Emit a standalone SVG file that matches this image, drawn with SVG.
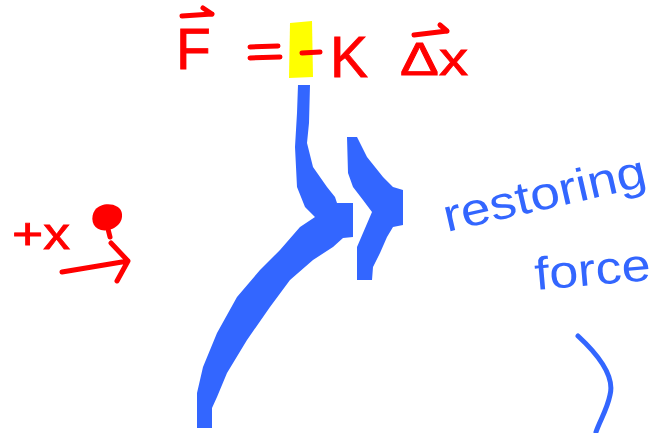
<svg xmlns="http://www.w3.org/2000/svg" width="657" height="433" viewBox="0 0 657 433">
<style>
.red{fill:#ff0000;stroke:#ff0000;stroke-width:0.8;font-family:"Liberation Sans",sans-serif;}
.rline{fill:none;stroke:#ff0000;stroke-width:5;stroke-linecap:round;stroke-linejoin:round;}
.blue{fill:#3366ff;}
.btext{fill:#3366ff;font-family:"Liberation Sans",sans-serif;}
.bline{fill:none;stroke:#3366ff;stroke-width:5;stroke-linecap:round;}
</style>
<rect width="657" height="433" fill="#ffffff"/>
<g id="equation">
  <path d="M290 23 L312 21 L313 77 L289 78 Z" fill="#ffff00"/>
  <text class="red" x="176" y="69" font-size="57">F</text>
  <path class="rline" d="M182 16 L212 14 M203 8 L212 14"/>
  <path class="rline" d="M250 47 L278 46 M250 58 L280 57"/>
  <path class="rline" d="M302 53 L320 52"/>
  <text class="red" x="330" y="77" font-size="57">K</text>
  <text class="red" x="400" y="75" font-size="46" textLength="68" lengthAdjust="spacingAndGlyphs">Δx</text>
  <path class="rline" d="M414 35 L447 31 M440 25 L447 31"/>
</g>
<g id="plus-x">
  <text class="red" x="12" y="249" font-size="44" textLength="58" lengthAdjust="spacingAndGlyphs">+x</text>
  <path d="M95 210 C102 201 121 203 122 214 C123 226 110 232 101 230 C92 228 90 217 95 210 Z" fill="#ff0000"/>
  <path class="rline" d="M108 229 L110 237"/>
  <path class="rline" d="M62 272 L128 261 M111 243 L128 261 L117 281"/>
</g>
<g id="connectors">
  <path class="blue" d="M298 85 L310 85 L309 123 L307 143 L313 167 L327 187 L335 197 L337 203 L353 203 L353 237 L343 238 L333 247 L313 260 L290 280 L270 307 L247 340 L227 373 L217 397 L212 408 L212 428 L197 428 L197 393 L203 367 L217 333 L237 297 L260 270 L280 250 L300 227 L315 217 L305 207 L297 187 L295 147 L297 113 Z"/>
  <path class="blue" d="M347 137 L357 137 L367 157 L383 177 L393 187 L403 190 L403 225 L393 227 L387 237 L380 253 L373 267 L372 280 L357 280 L357 247 L363 233 L372 212 L363 200 L353 187 L348 173 Z"/>
  <path class="bline" d="M578 336 C604 360 614 380 610 395 C607 410 600 420 596 432"/>
</g>
<g id="label">
  <text class="btext" x="447" y="232" font-size="46" transform="rotate(-13 447 232)" textLength="207" lengthAdjust="spacingAndGlyphs">restoring</text>
  <text class="btext" x="536" y="290" font-size="46" transform="rotate(-5 536 290)" textLength="116" lengthAdjust="spacingAndGlyphs">force</text>
</g>
</svg>
